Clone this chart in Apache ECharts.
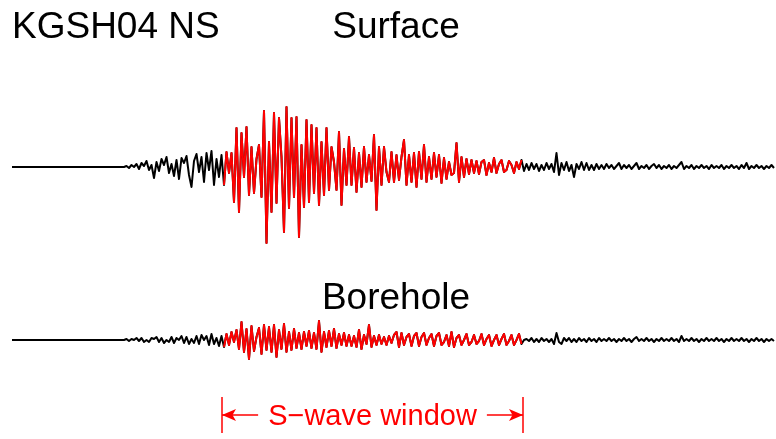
<!DOCTYPE html>
<html>
<head>
<meta charset="utf-8">
<script src="https://cdn.jsdelivr.net/npm/echarts@6/dist/echarts.min.js"></script>
<style>html,body{margin:0;padding:0;background:#fff;}#c{width:776px;height:439px;}</style>
</head>
<body>
<div id="c"></div>
<script>
// ---- data (time in s, amplitude in arbitrary units, up positive) ----
var stationLabel = 'KGSH04 NS';
var traceNames = ['Surface', 'Borehole'];
var recordStart = 0;        // s, record begins (quiet before onset)
var onsetTime = 11.2;       // s, first sample of the digitised wave
var sampleInterval = 0.25;  // s
var recordEnd = 76.4;       // s
var windowStart = 21.0;     // S-wave window start (s)
var windowEnd = 51.1;       // S-wave window end (s)
var windowLabel = 'S\u2212wave window';

var surface = [
  0, 1, -1, 2, 0, 3, -2, 4, 1, 6, -3, 2, -11, 5, -4, 8, 2, 10, -6, 3,
  -9, 7, -12, 9, 4, 11, -8, -20, 6, 13, -5, 10, -15, 14, -3, 16, -18, 8, -10, 12,
  -18, 15, -6, 14, -35, 39, -45, 34, -10, 40, -28, 20, -26, 8, 22, -30, 56, -76, 25, -45,
  54, -36, 49, 10, -65, 60, -41, 49, -30, 50, -70, 22, -40, 47, -35, 42, -26, 39, -38, 25,
  -28, 39, -23, 20, 5, -23, 35, -38, 18, -18, 30, -18, 19, -25, 14, -20, 20, -15, 12, -14,
  32, -43, 20, -18, 20, -5, -15, 15, -15, 12, -13, 10, 27, -18, 12, -15, 14, -20, 15, -12,
  22, -15, 10, -12, 14, -10, 12, -16, 9, -12, 5, -8, -6, 24, -15, 10, -10, 8, -7, 7,
  -6, 6, -7, 5, 7, -8, 4, -5, 9, -6, 3, 7, -5, -3, 6, 2, -6, 5, -2, 7,
  -4, 3, -3, 4, -2, 3, -4, 2, -3, 4, -2, 3, -5, 14, -8, 4, -3, 5, -4, 2,
  -10, 3, -2, 5, -3, 4, -3, 2, -3, 3, -2, 2, -2, 3, -1, 2, -2, 1, 4, -2,
  2, -1, 2, -2, 1, 4, -2, 1, -1, 2, -2, 1, 3, -1, 2, -2, 1, -1, 2, -2,
  1, -1, 2, 5, -2, 1, -1, 2, -2, 1, -1, 2, -1, 1, -2, 2, -1, 1, -1, 2,
  -2, 1, -1, 2, -1, 1, -2, 2, -1, 4, -2, 1, -1, 2, -1, 1, -2, 1, -1, 2,
  -1
];

var borehole = [
  0, 1, -1, 1, 0, 2, -1, 2, -2, 0, -2, 2, 1, 3, -2, 2, -3, 0, -2, 3,
  -3, 2, 0, 4, -3, 3, -4, 1, -3, 4, -4, 5, 0, 4, -5, 6, -4, 2, -6, 4,
  -7, 6, -5, 8, -2, 10, -9, 18, -12, 11, -19, 14, -11, 3, 12, -14, 15, -10, 13, -12,
  15, -17, 10, -9, 16, -12, 8, -10, 11, -8, 7, -9, 8, -6, 9, -8, 7, -9, 19, -12,
  8, -7, 9, -6, 11, -8, 6, -5, 7, -6, 5, -6, 4, -7, 10, -9, 5, -4, 15, -7,
  4, -5, 5, -4, 3, -5, 4, -3, 5, 8, -7, 7, -5, 3, 6, -6, 4, 7, -6, 3,
  7, -5, 2, 6, -6, 4, 7, -5, -2, 5, -6, 8, -7, 2, 5, -5, 0, 6, -5, -2,
  5, -4, -1, 6, -5, 1, 5, -6, 0, 5, -5, 1, 6, -5, -1, 5, -5, 0, 6, -4,
  0, 1, -1, 2, -2, 1, -2, 2, -1, 1, -2, 1, -4, 7, -2, -4, 2, -1, 2, -2,
  1, -2, 2, -1, 1, -2, 2, -1, 1, -2, 2, -1, 1, -1, 2, -1, 1, -2, 1, -1,
  2, -1, 1, -2, 1, 3, -1, 1, -1, 2, -1, 1, -2, 1, -1, 2, -1, 1, -1, 2,
  -1, 1, -2, 4, -1, 1, -1, 2, -1, 1, -2, 1, -1, 2, -1, 1, -1, 2, -1, 1,
  -2, 1, -1, 2, -1, 1, -1, 2, -1, 1, -2, 1, -1, 2, -1, 1, -2, 1, -1, 1,
  -1
];

// ---- build series data ----
function toPairs(arr) {
  var out = [[recordStart, 0]];
  for (var i = 0; i < arr.length; i++) out.push([onsetTime + i * sampleInterval, arr[i]]);
  return out;
}
function inWindow(pairs) {
  return pairs.filter(function (p) { return p[0] >= windowStart && p[0] <= windowEnd; });
}
var sPairs = toPairs(surface), bPairs = toPairs(borehole);

var chart = echarts.init(document.getElementById('c'), null, { renderer: 'canvas' });
var FONT = 'Liberation Sans, Arial, Helvetica, sans-serif';
var xAx = function (g) { return { gridIndex: g, type: 'value', min: recordStart, max: recordEnd, show: false }; };
var yAx = function (g, mn, mx) { return { gridIndex: g, type: 'value', min: mn, max: mx, show: false }; };
var lineStyle = function (c) { return { color: c, width: 2, join: 'round' }; };
var titleStyle = { fontFamily: FONT, fontSize: 37, fontWeight: 'normal', color: '#000' };

chart.setOption({
  animation: false,
  backgroundColor: '#ffffff',
  title: [
    { text: stationLabel, left: 12, top: 9, padding: 0, textStyle: titleStyle },
    { text: traceNames[0], left: 396, textAlign: 'center', top: 9, padding: 0, textStyle: titleStyle },
    { text: traceNames[1], left: 396, textAlign: 'center', top: 280, padding: 0, textStyle: titleStyle }
  ],
  grid: [
    { left: 12, right: 0, top: 87, height: 160 },
    { left: 12, right: 0, top: 260, height: 160 },
    { left: 12, right: 0, top: 397, height: 36 }
  ],
  xAxis: [xAx(0), xAx(1), xAx(2)],
  yAxis: [yAx(0, -80, 80), yAx(1, -80, 80), yAx(2, 0, 1)],
  series: [
    { type: 'line', xAxisIndex: 0, yAxisIndex: 0, data: sPairs, showSymbol: false, lineStyle: lineStyle('#000000'), silent: true },
    { type: 'line', xAxisIndex: 0, yAxisIndex: 0, data: inWindow(sPairs), showSymbol: false, lineStyle: lineStyle('#ff0000'), silent: true },
    { type: 'line', xAxisIndex: 1, yAxisIndex: 1, data: bPairs, showSymbol: false, lineStyle: lineStyle('#000000'), silent: true },
    { type: 'line', xAxisIndex: 1, yAxisIndex: 1, data: inWindow(bPairs), showSymbol: false, lineStyle: lineStyle('#ff0000'), silent: true },
    {
      type: 'line', xAxisIndex: 2, yAxisIndex: 2, data: [], silent: true,
      markLine: {
        silent: true, animation: false,
        lineStyle: { color: '#ff0000', width: 1.5, type: 'solid' },
        label: { show: false },
        data: [
          [{ coord: [windowStart, 0], symbol: 'none' }, { coord: [windowStart, 1], symbol: 'none' }],
          [{ coord: [windowEnd, 0], symbol: 'none' }, { coord: [windowEnd, 1], symbol: 'none' }],
          [
            {
              coord: [windowStart, 0.5], symbol: 'arrow', symbolSize: [9, 14],
              label: {
                show: true, position: 'middle', formatter: windowLabel, distance: -18,
                color: '#ff0000', fontFamily: FONT, fontSize: 29,
                backgroundColor: '#ffffff', padding: [2, 10]
              }
            },
            { coord: [windowEnd, 0.5], symbol: 'arrow', symbolSize: [9, 14] }
          ]
        ]
      }
    }
  ]
});
</script>
</body>
</html>
